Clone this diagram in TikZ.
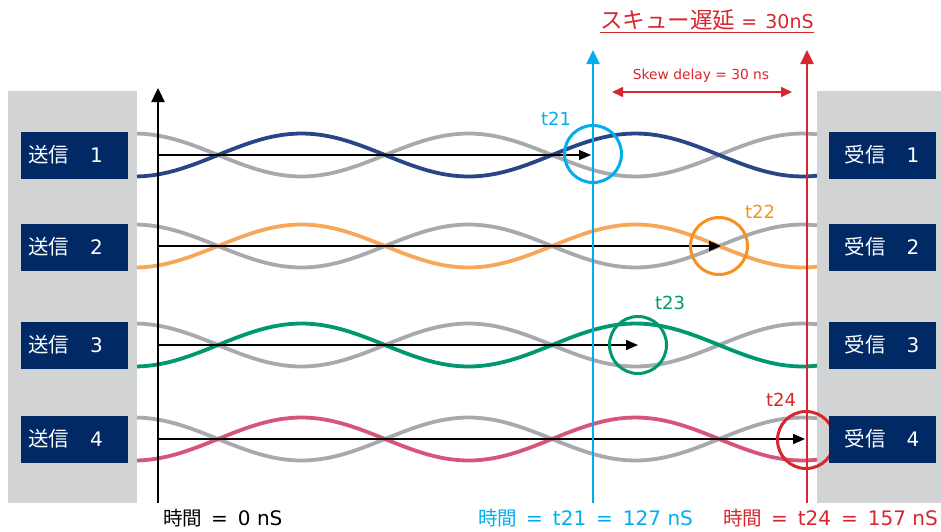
\documentclass[tikz,border=0pt]{standalone}
\usepackage{fontspec}
\setmainfont{DejaVu Sans}
\newfontfamily\jp{Noto Sans CJK JP}
\usetikzlibrary{arrows.meta}
\definecolor{navy}{RGB}{0,41,102}
\definecolor{panelgray}{RGB}{209,211,212}
\definecolor{wgray}{RGB}{168,169,173}
\definecolor{wblue}{RGB}{40,70,135}
\definecolor{worange}{RGB}{247,166,90}
\definecolor{corange}{RGB}{245,145,30}
\definecolor{wgreen}{RGB}{0,152,110}
\definecolor{wpink}{RGB}{214,86,122}
\definecolor{tcyan}{RGB}{0,174,239}
\definecolor{tred}{RGB}{215,38,45}
\newcommand\jptext[2]{{\jp\fontsize{#1}{#1}\selectfont #2}}
\newcommand\timelabel[1]{\jptext{19.5}{時間}\hspace{9pt}=\hspace{10pt}#1}
\tikzset{
  wave/.style={line width=3.8pt},
  flow/.style={line width=1.6pt, -{Triangle[length=12pt,width=10pt]}},
  ring/.style={circle, draw, line width=3pt, minimum size=57pt, inner sep=0pt},
  marker/.style={line width=2.4pt, -{Triangle[length=14pt,width=13pt]}},
  txbox/.style={fill=navy, text=white, font=\fontsize{20}{20}\selectfont,
    minimum height=47pt, inner xsep=7pt, text width=93pt, align=left},
  rxbox/.style={fill=navy, text=white, font=\fontsize{20}{20}\selectfont,
    minimum height=47pt, minimum width=107pt},
  tlabel/.style={font=\fontsize{18}{18}\selectfont, inner sep=0pt},
  bottomlabel/.style={font=\fontsize{20}{20}\selectfont, inner sep=0pt}
}
\begin{document}
\begin{tikzpicture}[x=1pt, y=-1pt]
  \useasboundingbox (0,0) rectangle (941,531);
  \fill[panelgray] (8,91) rectangle (137,503);
  \fill[panelgray] (817,91) rectangle (941,503);

  % twisted pairs
  \foreach \r/\c in {155/wblue, 246/worange, 345/wgreen, 439/wpink} {
    \draw[wave, wgray] plot[domain=137:817, samples=90] (\x, {\r + 21.5*sin(1.0778*(\x-218))});
    \draw[wave, \c] plot[domain=137:817, samples=90] (\x, {\r - 21.5*sin(1.0778*(\x-218))});
  }

  % time axis
  \coordinate (o) at (158,503);
  \coordinate (otop) at (158,88);
  \draw[line width=2.4pt, -{Triangle[length=14pt,width=13pt]}] (o) -- (otop);

  % propagation
  \foreach \i/\r/\e in {1/155/591, 2/246/721, 3/345/638, 4/439/805} {
    \coordinate (s\i) at (158,\r);
    \coordinate (e\i) at (\e,\r);
    \draw[flow] (s\i) -- (e\i);
  }

  \node[ring, tcyan] (c21) at (593,154) {};
  \node[ring, corange] (c22) at (719,246) {};
  \node[ring, wgreen] (c23) at (638,345) {};
  \node[ring, tred] (c24) at (806,440) {};
  \node[tlabel, tcyan] (l21) at (556,119) {t21};
  \node[tlabel, corange] (l22) at (760,212) {t22};
  \node[tlabel, wgreen] (l23) at (670,303) {t23};
  \node[tlabel, tred] (l24) at (781,400) {t24};

  % markers
  \coordinate (m21) at (593,503);
  \coordinate (m21top) at (593,50);
  \coordinate (m24) at (807,503);
  \coordinate (m24top) at (807,50);
  \draw[marker, tcyan] (m21) -- (m21top);
  \draw[marker, tred] (m24) -- (m24top);

  \coordinate (skewl) at (612,92);
  \coordinate (skewr) at (792,92);
  \draw[tred, line width=1.6pt, {Triangle[length=11pt,width=10pt]}-{Triangle[length=11pt,width=10pt]}] (skewl) -- (skewr);
  \node[tred, font=\fontsize{13.8}{14}\selectfont] (skew) at (701,76) {Skew delay = 30 ns};
  \node[tred, font=\fontsize{19}{19}\selectfont] (title) at (707,21)
    {\underline{\jptext{22.5}{スキュー遅延}\hspace{6pt}=\hspace{8pt}30nS}};

  % ends
  \foreach \i/\r in {1/155, 2/247, 3/345, 4/439} {
    \node[txbox] (tx\i) at (74.5,\r) {\mbox{\jptext{20.5}{送信}\hspace{21pt}\i}};
    \node[rxbox] (rx\i) at (882,\r) {\jptext{20.5}{受信}\hspace{21pt}\i};
  }

  \node[bottomlabel, anchor=west] (t0) at (163,518) {\timelabel{0 nS}};
  \node[bottomlabel, anchor=west, tcyan] (t1) at (478,518) {\timelabel{t21\hspace{10pt}=\hspace{10pt}127 nS}};
  \node[bottomlabel, anchor=east, tred] (t2) at (938,518) {\timelabel{t24\hspace{10pt}=\hspace{10pt}157 nS}};
\end{tikzpicture}
\end{document}
